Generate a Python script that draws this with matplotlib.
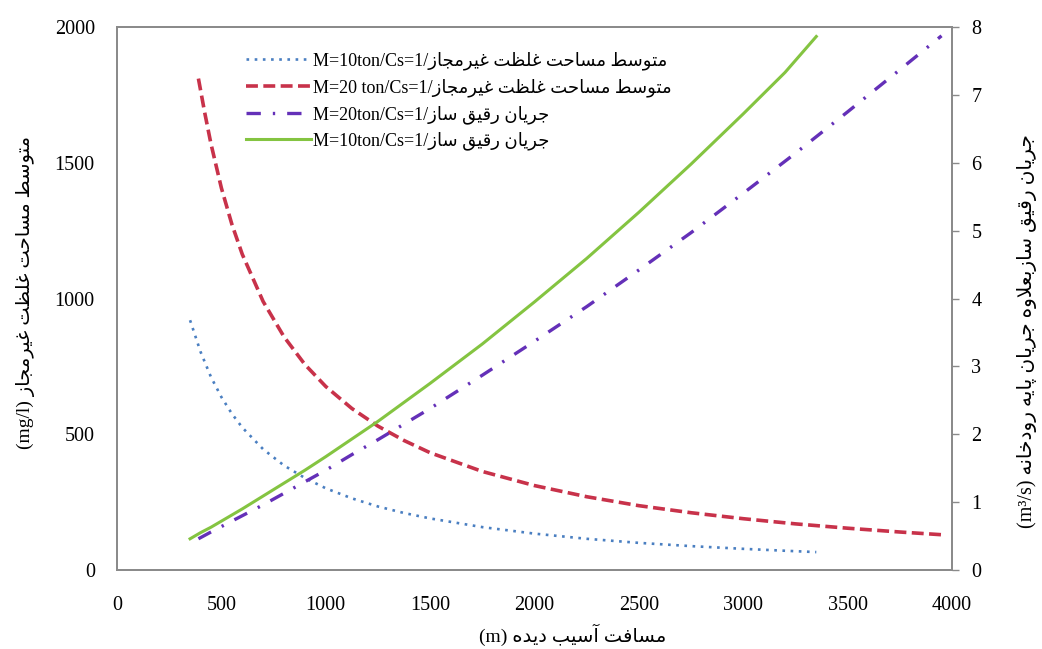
import matplotlib
matplotlib.use("Agg")
import matplotlib.pyplot as plt

plt.rcParams['font.family'] = ['Liberation Serif', 'DejaVu Sans']

# distances (m)
dist_m10 = [350, 400, 450, 500, 550, 600, 700, 800, 900, 1000, 1125, 1250, 1375, 1500,
            1750, 2000, 2250, 2500, 2750, 3000, 3200, 3350]
dist_m20 = [390, 420, 450, 500, 550, 600, 700, 800, 900, 1000, 1125, 1250, 1375, 1500,
            1750, 2000, 2250, 2500, 2750, 3000, 3250, 3500, 3750, 3950]

# mean concentration above limit (mg/l), left axis
conc_m10 = [920, 804, 711, 637, 576, 525, 445, 385, 339, 301, 264, 234, 210, 190,
            158, 134, 115, 100, 88, 78, 71, 66]
conc_m20 = [1810, 1685, 1570, 1407, 1274, 1163, 989, 859, 757, 676, 595, 530, 477, 432,
            363, 311, 270, 237, 211, 189, 170, 154, 140, 130]

# diluting flow (m3/s), right axis
flow_m10 = [0.46, 0.55, 0.63, 0.72, 0.81, 0.90, 1.09, 1.28, 1.47, 1.67, 1.93, 2.19, 2.47, 2.75,
            3.33, 3.95, 4.59, 5.27, 5.98, 6.72, 7.33, 7.86]
flow_m20 = [0.46, 0.51, 0.56, 0.64, 0.72, 0.80, 0.96, 1.13, 1.30, 1.47, 1.70, 1.92, 2.15, 2.38,
            2.87, 3.37, 3.88, 4.42, 4.97, 5.55, 6.14, 6.75, 7.37, 7.87]

x_ticks = [0, 500, 1000, 1500, 2000, 2500, 3000, 3500, 4000]
left_ticks = [0, 500, 1000, 1500, 2000]
right_ticks = [0, 1, 2, 3, 4, 5, 6, 7, 8]

# matplotlib has no arabic shaping, so pick the presentation forms by hand
FORMS = {
    'ا': ('\uFE8D', '\uFE8E', None, None),
    'آ': ('\uFE81', '\uFE82', None, None),
    'ب': ('\uFE8F', '\uFE90', '\uFE91', '\uFE92'),
    'پ': ('\uFB56', '\uFB57', '\uFB58', '\uFB59'),
    'ت': ('\uFE95', '\uFE96', '\uFE97', '\uFE98'),
    'ج': ('\uFE9D', '\uFE9E', '\uFE9F', '\uFEA0'),
    'ح': ('\uFEA1', '\uFEA2', '\uFEA3', '\uFEA4'),
    'خ': ('\uFEA5', '\uFEA6', '\uFEA7', '\uFEA8'),
    'د': ('\uFEA9', '\uFEAA', None, None),
    'ر': ('\uFEAD', '\uFEAE', None, None),
    'ز': ('\uFEAF', '\uFEB0', None, None),
    'س': ('\uFEB1', '\uFEB2', '\uFEB3', '\uFEB4'),
    'ط': ('\uFEC1', '\uFEC2', '\uFEC3', '\uFEC4'),
    'ظ': ('\uFEC5', '\uFEC6', '\uFEC7', '\uFEC8'),
    'ع': ('\uFEC9', '\uFECA', '\uFECB', '\uFECC'),
    'غ': ('\uFECD', '\uFECE', '\uFECF', '\uFED0'),
    'ف': ('\uFED1', '\uFED2', '\uFED3', '\uFED4'),
    'ق': ('\uFED5', '\uFED6', '\uFED7', '\uFED8'),
    'ل': ('\uFEDD', '\uFEDE', '\uFEDF', '\uFEE0'),
    'م': ('\uFEE1', '\uFEE2', '\uFEE3', '\uFEE4'),
    'ن': ('\uFEE5', '\uFEE6', '\uFEE7', '\uFEE8'),
    'ه': ('\uFEE9', '\uFEEA', '\uFEEB', '\uFEEC'),
    'و': ('\uFEED', '\uFEEE', None, None),
    'ی': ('\uFBFC', '\uFBFD', '\uFBFE', '\uFBFF'),
}
LAM_ALEF = {'ا': ('\uFEFB', '\uFEFC'), 'آ': ('\uFEF5', '\uFEF6')}


def fa(text):
    """Shape a persian string and return it in visual (left to right) order."""
    out = []
    i = 0
    while i < len(text):
        c = text[i]
        if c not in FORMS:
            out.append(c)
            i += 1
            continue
        prev = text[i - 1] if i > 0 else None
        nxt = text[i + 1] if i + 1 < len(text) else None
        joins_prev = prev in FORMS and FORMS[prev][2] is not None
        if c == 'ل' and nxt in LAM_ALEF:
            out.append(LAM_ALEF[nxt][1] if joins_prev else LAM_ALEF[nxt][0])
            i += 2
            continue
        iso, fin, ini, med = FORMS[c]
        joins_next = ini is not None and nxt in FORMS
        if joins_prev and joins_next:
            out.append(med)
        elif joins_prev:
            out.append(fin)
        elif joins_next:
            out.append(ini)
        else:
            out.append(iso)
        i += 1
    return ''.join(reversed(out))


conc_fa = fa('متوسط مساحت غلظت غیرمجاز')
flow_fa = fa('جریان رقیق ساز')

fig = plt.figure(figsize=(10.42, 6.49), dpi=100)
ax = fig.add_axes([0.1123, 0.1217, 0.8013, 0.8367])
ax2 = ax.twinx()

l1, = ax.plot(dist_m10, conc_m10, color='#4a7fc1', lw=1.9, linestyle=(0, (1, 2.1)),
              label='M=10ton/Cs=1/' + conc_fa)
l2, = ax.plot(dist_m20, conc_m20, color='#c8324a', lw=2.6, linestyle=(0, (3.3, 1.5)),
              label='M=20 ton/Cs=1/' + conc_fa)
l3, = ax2.plot(dist_m20, flow_m20, color='#6430b8', lw=2.4, linestyle=(0, (4.3, 3.6, 0.7, 3.6)),
               label='M=20ton/Cs=1/' + flow_fa)
l4, = ax2.plot(dist_m10, flow_m10, color='#84c441', lw=2.2, linestyle='-',
               label='M=10ton/Cs=1/' + flow_fa)

ax.set_xlim(0, 4000)
ax.set_ylim(0, 2000)
ax2.set_ylim(0, 8)
ax.set_xticks(x_ticks)
ax.set_yticks(left_ticks)
ax2.set_yticks(right_ticks)

for a in (ax, ax2):
    for s in a.spines.values():
        s.set_color('#8a8a8a')
        s.set_linewidth(1.3)

ax.tick_params(axis='x', length=0, pad=19, labelsize=14.5)
ax.tick_params(axis='y', length=0, pad=16, labelsize=14.5)
ax2.tick_params(axis='y', length=5, width=1, color='#8a8a8a', pad=9, labelsize=14.5)

fig.text(0.024, 0.55, '(mg/l) ' + conc_fa, rotation=90, ha='center', va='center',
         fontsize=14)
fig.text(0.986, 0.49, '(m³/s) ' + fa('جریان رقیق سازبعلاوه جریان پایه رودخانه'),
         rotation=90, ha='center', va='center', fontsize=14.5)
fig.text(0.55, 0.022, '(m) ' + fa('مسافت آسیب دیده'), ha='center', va='center', fontsize=14)

ax2.legend(handles=[l1, l2, l3, l4], loc='upper left', bbox_to_anchor=(0.155, 0.955),
           frameon=False, fontsize=13, handlelength=3.6, handletextpad=0.1,
           labelspacing=0.45, borderpad=0, borderaxespad=0)

fig.savefig('out.png', dpi=100)
